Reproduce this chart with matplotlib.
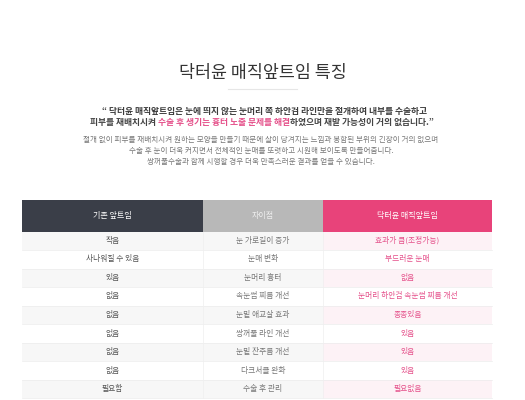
import matplotlib
matplotlib.use("Agg")
import matplotlib.pyplot as plt
from matplotlib.patches import Rectangle

plt.rcParams["font.family"] = ["Noto Sans CJK KR", "DejaVu Sans"]

TITLE = "닥터윤 매직앞트임 특징"
QUOTE_1 = "\u201c 닥터윤 매직앞트임은 눈에 띄지 않는 눈머리 쪽 하안검 라인만을 절개하여 내부를 수술하고"
QUOTE_2 = [("피부를 재배치시켜 ", "#444444"),
           ("수술 후 생기는 흉터 노출 문제를 해결", "#e5508a"),
           ("하였으며 재발 가능성이 거의 없습니다.\u201d", "#444444")]
BODY = ["절개 없이 피부를 재배치시켜 원하는 모양을 만들기 때문에 살이 당겨지는 느낌과 봉합된 부위의 긴장이 거의 없으며",
        "수술 후 눈이 더욱 커지면서 전체적인 눈매를 또렷하고 시원해 보이도록 만들어줍니다.",
        "쌍꺼풀수술과 함께 시행할 경우 더욱 만족스러운 결과를 얻을 수 있습니다."]

headers = ["기존 앞트임", "차이점", "닥터윤 매직앞트임"]
existing = ["작음", "사나워질 수 있음", "있음", "없음", "없음", "없음", "없음", "없음", "필요함"]
difference = ["눈 가로길이 증가", "눈매 변화", "눈머리 흉터", "속눈썹 찌름 개선", "눈밑 애교살 효과",
              "쌍꺼풀 라인 개선", "눈밑 잔주름 개선", "다크서클 완화", "수술 후 관리"]
magic = ["효과가 큼(조정가능)", "부드러운 눈매", "없음", "눈머리 하안검 속눈썹 찌름 개선", "종종있음",
         "있음", "있음", "있음", "필요없음"]

head_bg = ["#3a3e48", "#b8b8b8", "#e8437a"]
cell_fg = ["#555555", "#777777", "#e5508a"]
stripe_bg = ["#f7f7f7", "#f7f7f7", "#fdf2f6"]

col_edges = [22, 203, 323, 492]
head_top, head_h, row_h = 200, 31.5, 18.55

fig = plt.figure(figsize=(5.25, 4.0), dpi=100)
ax = fig.add_axes([0, 0, 1, 1])
ax.set_xlim(0, 525); ax.set_ylim(400, 0); ax.axis("off")

# title + rule
ax.text(262.5, 73, TITLE, ha="center", va="center", fontsize=12.5, color="#333333")
ax.plot([228, 297], [88.5, 88.5], color="#e6e6e6", lw=0.8)

# quote
ax.text(265, 111, QUOTE_1, ha="center", va="center", fontsize=6.3, color="#3c3c3c", weight="bold")
fig.canvas.draw()
r = fig.canvas.get_renderer()
inv = ax.transData.inverted()
pieces = []
for s, c in QUOTE_2:
    t = ax.text(0, 122, s, ha="left", va="center", fontsize=6.3, color=c, weight="bold")
    bb = t.get_window_extent(r)
    w = inv.transform((bb.x1, 0))[0] - inv.transform((bb.x0, 0))[0]
    pieces.append((t, w))
x = 262 - sum(w for _, w in pieces) / 2
for t, w in pieces:
    t.set_x(x); x += w

for i, line in enumerate(BODY):
    ax.text(261, 139.5 + i * 11.2, line, ha="center", va="center", fontsize=5.45, color="#777777")

# table header
for j, h in enumerate(headers):
    x0, x1 = col_edges[j], col_edges[j + 1]
    ax.add_patch(Rectangle((x0, head_top), x1 - x0, head_h, color=head_bg[j], lw=0))
    ax.text((x0 + x1) / 2, head_top + head_h / 2, h, ha="center", va="center",
            fontsize=5.8, color="white" if j != 1 else "#eeeeee")

# table body
columns = [existing, difference, magic]
for i in range(len(existing)):
    y0 = head_top + head_h + i * row_h
    for j, col in enumerate(columns):
        x0, x1 = col_edges[j], col_edges[j + 1]
        if i % 2 == 0:
            ax.add_patch(Rectangle((x0, y0), x1 - x0, row_h, color=stripe_bg[j], lw=0))
        ax.text((x0 + x1) / 2, y0 + row_h / 2, col[i], ha="center", va="center", fontsize=5.6,
                color=cell_fg[j], weight="medium" if j == 0 else "normal")
    ax.plot([col_edges[0], col_edges[-1]], [y0 + row_h, y0 + row_h], color="#ececec", lw=0.5)
table_bottom = head_top + head_h + len(existing) * row_h
for xe in col_edges[1:-1]:
    ax.plot([xe, xe], [head_top + head_h, table_bottom], color="#efefef", lw=0.5)

fig.savefig("out.png", dpi=100, facecolor="white")
